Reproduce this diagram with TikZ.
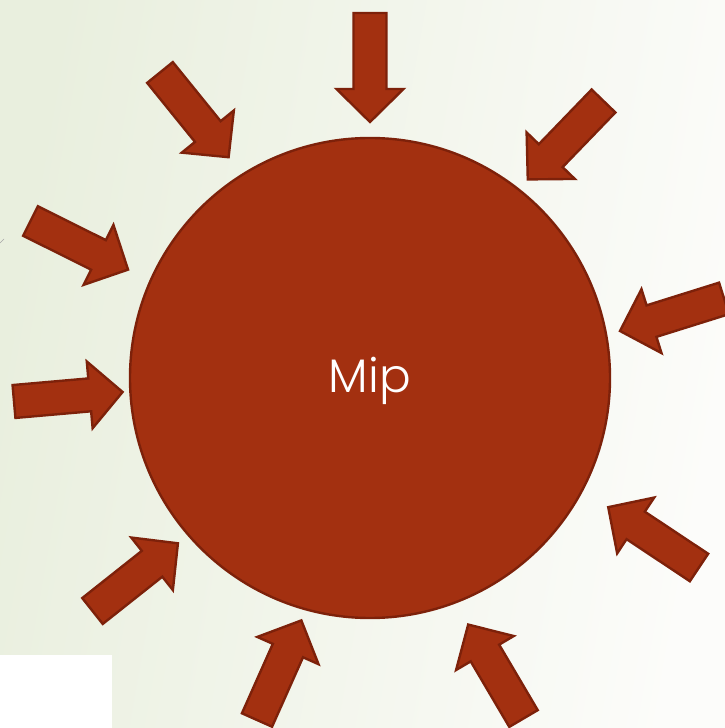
\documentclass[tikz,border=0pt]{standalone}
\usepackage{fontspec}
\newfontfamily\mipfont{Poppins Light}
\usepackage{tikz}
\usetikzlibrary{calc,positioning}
\definecolor{rust}{RGB}{163,48,16}
\definecolor{rustdark}{RGB}{125,33,10}
\definecolor{bgleft}{RGB}{233,239,222}
\definecolor{bgright}{RGB}{252,252,250}

\begin{document}
\begin{tikzpicture}[x=1pt, y=1pt]
\tikzstyle{ray}=[fill=rust, draw=rustdark, line width=2.4pt, line join=miter]
\tikzstyle{sun}=[circle, fill=rust, draw=rustdark, line width=2.4pt,
                 minimum size=480pt, inner sep=0pt, text=white,
                 font=\mipfont\fontsize{47}{50}\selectfont]
\useasboundingbox (0,0) rectangle (725,728);
\shade[left color=bgleft, right color=bgright, shading angle=80] (0,0) rectangle (725,728);
\fill[white] (0,0) rectangle (112,73);
\draw[gray!70, line width=0.6pt] (0,485) -- (4,489);
\node[sun] (mip) at (370,350) {\raisebox{-3pt}[\height][\depth]{Mip}};
% block arrows: tail x / tail y / direction
\foreach \x/\y/\a in {370/715/-90, 603.5/627/-134, 724/429.6/-162.6, 699/160.5/146.4,
                      523.5/9.5/120.5, 257/8/66, 92.5/117/38.4, 14/326.5/5,
                      30.5/507/-26.5, 160/655.5/-51}{
  \draw[ray, shift={(\x,\y)}, rotate=\a] (0,16.5) -- (76,16.5) -- (76,33.5) -- (109,0)
        -- (76,-33.5) -- (76,-16.5) -- (0,-16.5) -- cycle;
}
\end{tikzpicture}
\end{document}
